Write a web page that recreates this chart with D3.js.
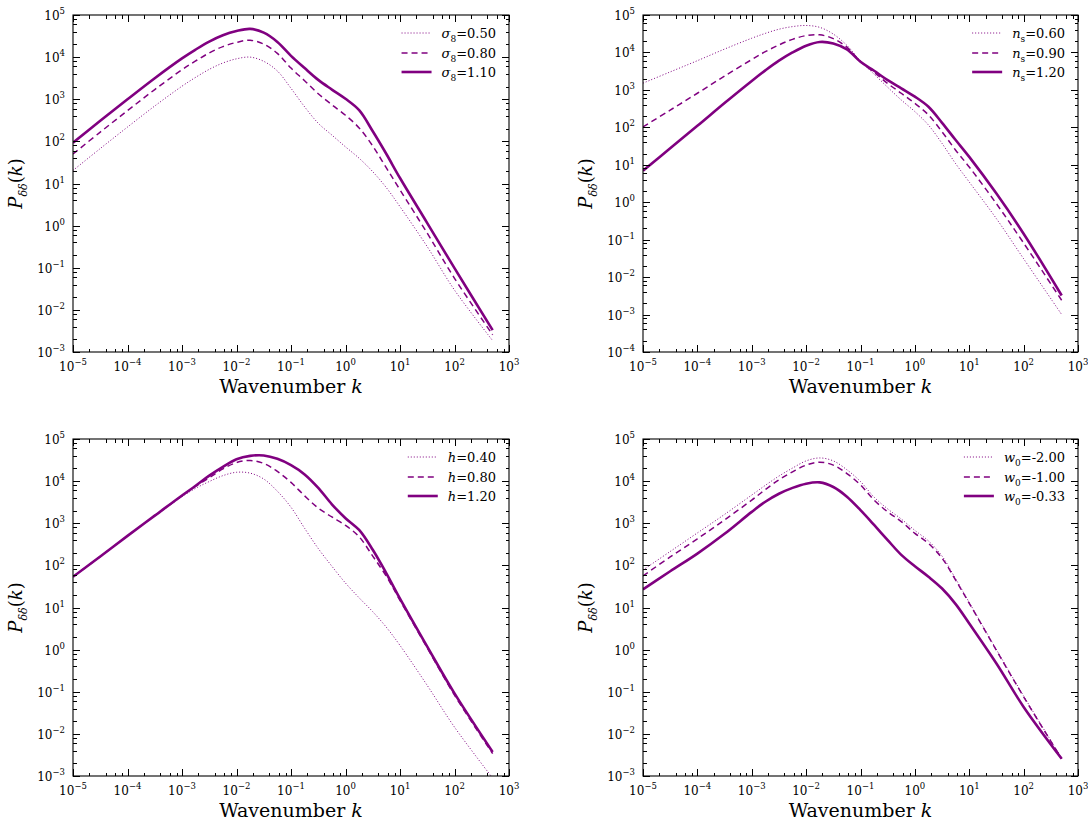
<!DOCTYPE html>
<html><head><meta charset="utf-8">
<script src="https://cdn.jsdelivr.net/npm/d3@7"></script>
<style>
body{margin:0;background:#fff}
svg{display:block}
svg text{font-family:"DejaVu Serif",serif;fill:#000}
</style>
</head><body>
<svg id="c" width="1088" height="823" font-family="DejaVu Serif, serif"></svg>
<script>
// ---- data (log10 k grid and log10 P values) ----
const log10K = [-5,-4.5,-4,-3.5,-3,-2.75,-2.5,-2.25,-2,-1.75,-1.5,-1.25,-1,-0.75,-0.5,-0.25,0,0.25,0.5,0.75,1,1.5,2,2.7];

const sigma8_050 = [1.31,1.83,2.34,2.84,3.31,3.52,3.71,3.86,3.96,4.00,3.90,3.67,3.26,2.82,2.43,2.15,1.87,1.60,1.28,0.90,0.45,-0.50,-1.53,-2.73];
const sigma8_080 = [1.70,2.22,2.73,3.23,3.70,3.91,4.10,4.25,4.35,4.40,4.31,4.09,3.74,3.44,3.13,2.87,2.62,2.32,1.89,1.37,0.85,-0.18,-1.25,-2.59];
const sigma8_110 = [1.97,2.49,3.00,3.50,3.97,4.18,4.37,4.52,4.62,4.67,4.58,4.36,4.03,3.74,3.46,3.23,3.01,2.74,2.24,1.70,1.13,0.06,-1.01,-2.48];

const ns_060 = [3.18,3.48,3.78,4.09,4.38,4.51,4.62,4.69,4.72,4.67,4.49,4.19,3.77,3.42,3.07,2.73,2.42,2.06,1.57,1.03,0.54,-0.44,-1.51,-3.00];
const ns_090 = [2.01,2.46,2.91,3.37,3.81,4.02,4.20,4.35,4.45,4.47,4.37,4.14,3.76,3.47,3.17,2.91,2.64,2.33,1.88,1.39,0.94,-0.04,-1.09,-2.62];
const ns_120 = [0.84,1.44,2.04,2.65,3.24,3.52,3.78,4.00,4.18,4.28,4.24,4.08,3.75,3.51,3.26,3.04,2.82,2.55,2.12,1.66,1.21,0.23,-0.84,-2.49];

const h_040 = [1.73,2.21,2.70,3.18,3.63,3.83,3.99,4.13,4.21,4.19,4.05,3.76,3.38,2.88,2.40,1.98,1.58,1.23,0.90,0.53,0.10,-0.85,-1.84,-3.05];
const h_080 = [1.73,2.21,2.70,3.18,3.65,3.88,4.08,4.29,4.44,4.49,4.42,4.23,3.97,3.65,3.36,3.15,2.95,2.68,2.22,1.74,1.17,0.04,-1.08,-2.47];
const h_120 = [1.73,2.21,2.70,3.18,3.66,3.89,4.13,4.34,4.52,4.60,4.61,4.53,4.38,4.16,3.84,3.45,3.12,2.84,2.37,1.81,1.21,0.07,-1.04,-2.43];

const w0_200 = [1.89,2.33,2.77,3.21,3.67,3.90,4.12,4.31,4.48,4.55,4.48,4.27,3.99,3.62,3.34,3.10,2.83,2.58,2.22,1.68,1.12,0.00,-1.10,-2.58];
const w0_100 = [1.75,2.20,2.63,3.08,3.55,3.80,4.03,4.22,4.38,4.45,4.38,4.18,3.91,3.55,3.27,3.04,2.76,2.52,2.17,1.65,1.10,-0.02,-1.12,-2.59];
const w0_033 = [1.43,1.86,2.28,2.75,3.27,3.51,3.70,3.84,3.94,3.97,3.86,3.63,3.31,2.96,2.60,2.25,1.98,1.73,1.45,1.08,0.62,-0.33,-1.36,-2.59];

const sigma8Labels = ["0.50","0.80","1.10"];
const nsLabels = ["0.60","0.90","1.20"];
const hLabels = ["0.40","0.80","1.20"];
const w0Labels = ["-2.00","-1.00","-0.33"];

const xDecades = [-5,-4,-3,-2,-1,0,1,2,3];
const yDecadesA = [-3,-2,-1,0,1,2,3,4,5];
const yDecadesB = [-4,-3,-2,-1,0,1,2,3,4,5];
const minorSubs = [2,4,6,8];

// ---- panels ----
const panels = [
  {series:[sigma8_050,sigma8_080,sigma8_110], labels:sigma8Labels, sym:"σ", sub:"8", yDec:yDecadesA},
  {series:[ns_060,ns_090,ns_120], labels:nsLabels, sym:"n", sub:"s", yDec:yDecadesB},
  {series:[h_040,h_080,h_120], labels:hLabels, sym:"h", sub:null, yDec:yDecadesA},
  {series:[w0_200,w0_100,w0_033], labels:w0Labels, sym:"w", sub:"0", yDec:yDecadesA}
];
const layout = [
  {x0:73, x1:509, y0:15, y1:352},
  {x0:643, x1:1078, y0:15, y1:352},
  {x0:73, x1:509, y0:439, y1:776},
  {x0:643, x1:1078, y0:439, y1:776}
];
const color = "#800080";
const styles = [
  {w:1.0, dash:"1,2"},
  {w:1.5, dash:"6,4"},
  {w:2.6, dash:null}
];
const FONT = "DejaVu Serif, serif";

const svg = d3.select("#c");

function minorTicks(decs){
  const out=[];
  for(let i=0;i<decs.length-1;i++) for(const s of minorSubs) out.push(s*Math.pow(10,decs[i]));
  return out;
}
function supLabel(sel, e){
  sel.append("tspan").text("10");
  sel.append("tspan").attr("dy",-6).attr("font-size",8.5).text(String(e).replace("-","−"));
}

panels.forEach((p,i)=>{
  const L = layout[i];
  const yd = p.yDec;
  const x = d3.scaleLog().domain([1e-5,1e3]).range([L.x0,L.x1]);
  const y = d3.scaleLog().domain([Math.pow(10,yd[0]),Math.pow(10,yd[yd.length-1])]).range([L.y1,L.y0]);
  const g = svg.append("g");

  const cid = "clip"+i;
  svg.append("clipPath").attr("id",cid).append("rect")
    .attr("x",L.x0).attr("y",L.y0).attr("width",L.x1-L.x0).attr("height",L.y1-L.y0);

  const line = d3.line()
    .x((d,j)=>x(Math.pow(10,log10K[j])))
    .y(d=>y(Math.pow(10,d)))
    .curve(d3.curveCatmullRom.alpha(0.5));

  const lg = g.append("g").attr("clip-path",`url(#${cid})`);
  p.series.forEach((s,j)=>{
    lg.append("path").attr("d",line(s)).attr("fill","none")
      .attr("stroke",color).attr("stroke-width",styles[j].w)
      .attr("stroke-dasharray",styles[j].dash)
      .attr("stroke-linejoin","round");
  });

  // ticks
  const xMaj = xDecades.map(e=>Math.pow(10,e));
  const xMin = minorTicks(xDecades);
  const yMaj = yd.map(e=>Math.pow(10,e));
  const yMin = minorTicks(yd);
  const tg = g.append("g").attr("shape-rendering","crispEdges");
  const defs = [
    [d3.axisBottom, x, `translate(0,${L.y1})`, xMaj, xMin],
    [d3.axisTop, x, `translate(0,${L.y0})`, xMaj, xMin],
    [d3.axisLeft, y, `translate(${L.x0},0)`, yMaj, yMin],
    [d3.axisRight, y, `translate(${L.x1},0)`, yMaj, yMin]
  ];
  defs.forEach(([ax,sc,tr,maj,mn])=>{
    tg.append("g").attr("transform",tr)
      .call(ax(sc).tickValues(maj).tickSize(-7).tickFormat(""))
      .call(a=>a.select(".domain").remove());
    tg.append("g").attr("transform",tr)
      .call(ax(sc).tickValues(mn).tickSize(-3.5).tickFormat(""))
      .call(a=>a.select(".domain").remove());
  });
  tg.selectAll("line").attr("stroke","#000").attr("stroke-width",1);
  tg.selectAll("text").remove();

  // frame
  g.append("rect").attr("x",L.x0).attr("y",L.y0).attr("width",L.x1-L.x0).attr("height",L.y1-L.y0)
    .attr("fill","none").attr("stroke","#000").attr("stroke-width",1.1);

  // tick labels
  xDecades.forEach(e=>{
    const t = g.append("text").attr("x",x(Math.pow(10,e))).attr("y",L.y1+19)
      .attr("text-anchor","middle").attr("font-size",12).attr("font-family",FONT);
    supLabel(t,e);
  });
  yd.forEach(e=>{
    const t = g.append("text").attr("x",L.x0-8).attr("y",y(Math.pow(10,e))+5)
      .attr("text-anchor","end").attr("font-size",12).attr("font-family",FONT);
    supLabel(t,e);
  });

  // axis labels
  const xl = g.append("text").attr("x",(L.x0+L.x1)/2).attr("y",L.y1+41)
    .attr("text-anchor","middle").attr("font-size",19).attr("font-family",FONT);
  xl.append("tspan").text("Wavenumber ");
  xl.append("tspan").attr("font-style","italic").text("k");

  const yc = (L.y0+L.y1)/2;
  const yl = g.append("text").attr("transform",`translate(${L.x0-51},${yc}) rotate(-90)`)
    .attr("text-anchor","middle").attr("font-size",18).attr("font-family",FONT);
  yl.append("tspan").attr("font-style","italic").text("P");
  yl.append("tspan").attr("font-size",11).attr("dy",5).attr("font-style","italic").text("δδ");
  yl.append("tspan").attr("dy",-5).text("(");
  yl.append("tspan").attr("font-style","italic").text("k");
  yl.append("tspan").text(")");

  // legend
  const rowY = [18,38,57];
  p.labels.forEach((lab,j)=>{
    const ty = L.y0 + rowY[j];
    const t = g.append("text").attr("x",L.x1-13).attr("y",ty+5)
      .attr("text-anchor","end").attr("font-size",13).attr("font-family",FONT);
    t.append("tspan").attr("font-style","italic").text(p.sym);
    if(p.sub){
      t.append("tspan").attr("font-size",9).attr("dy",4).text(p.sub);
      t.append("tspan").attr("dy",-4).text("="+lab);
    } else {
      t.append("tspan").text("="+lab);
    }
    const w = t.node().getComputedTextLength();
    const left = L.x1-13-w;
    g.append("line").attr("x1",left-40).attr("x2",left-10).attr("y1",ty).attr("y2",ty)
      .attr("stroke",color).attr("stroke-width",styles[j].w)
      .attr("stroke-dasharray",styles[j].dash);
  });
});
</script>
</body></html>
